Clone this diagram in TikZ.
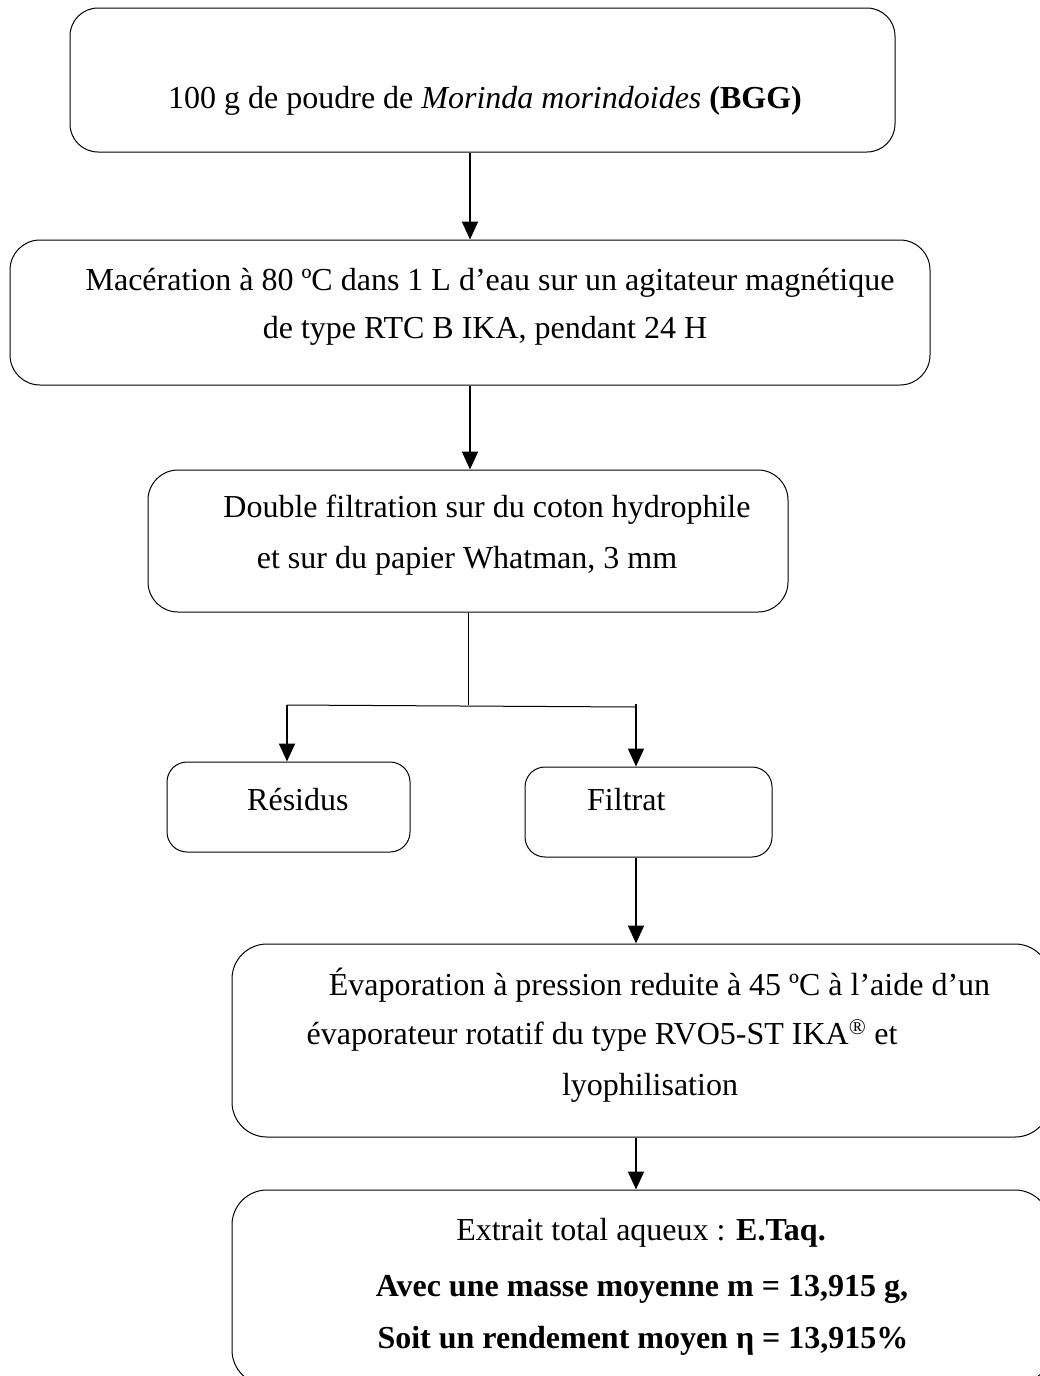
\documentclass[tikz,border=0pt]{standalone}
\usepackage{fontspec}
\setmainfont{Liberation Serif}
\usetikzlibrary{arrows.meta}
\begin{document}
\begin{tikzpicture}[x=1pt,y=-1pt,
  box/.style={draw,line width=1pt,inner sep=0pt,rounded corners=#1},
  box/.default=28pt,
  txt/.style={anchor=base,inner sep=0pt,font=\fontsize{32}{38}\selectfont},
  arr/.style={line width=2pt,-{Triangle[length=18pt,width=16pt]}},
  thinline/.style={line width=1pt}]
\useasboundingbox (0,0) rectangle (1040,1376);
% boxes
\node[box=28pt,minimum width=825pt,minimum height=144pt] (b1) at (482.5,80) {};
\node[box=30pt,minimum width=920pt,minimum height=145pt] (b2) at (470,312.5) {};
\node[box=30pt,minimum width=640pt,minimum height=142pt] (b3) at (468,541) {};
\node[box=20pt,minimum width=243pt,minimum height=90pt] (res) at (288.5,807) {};
\node[box=20pt,minimum width=247pt,minimum height=90pt] (fil) at (648.5,812) {};
\node[box=35pt,minimum width=818pt,minimum height=193pt] (b4) at (641,1040.5) {};
\node[box=35pt,minimum width=818pt,minimum height=195pt] (b5) at (641,1287.5) {};
% texts
\node[txt] (t1) at (485,108) {100 g de poudre de \textit{Morinda morindoides} \textbf{(BGG)}};
\node[txt] (t2a) at (490,290) {Macération à 80 ºC dans 1 L d’eau sur un agitateur magnétique};
\node[txt] (t2b) at (485,338) {de type RTC B IKA, pendant 24 H};
\node[txt] (t3a) at (487,517) {Double filtration sur du coton hydrophile};
\node[txt] (t3b) at (467,568) {et sur du papier Whatman, 3 mm};
\node[txt,anchor=base west] (tres) at (247,810) {Résidus};
\node[txt,anchor=base west] (tfil) at (587,810) {Filtrat};
\node[txt] (t4a) at (659.5,995) {Évaporation à pression reduite à 45 ºC à l’aide d’un};
\node[txt] (t4b) at (602,1044) {évaporateur rotatif du type RVO5-ST IKA\textsuperscript{®} et};
\node[txt] (t4c) at (650,1095) {lyophilisation};
\node[txt] (t5a) at (641,1240) {Extrait total aqueux : \textbf{E.Taq.}};
\node[txt] (t5b) at (642,1296) {\textbf{Avec une masse moyenne m = 13,915 g,}};
\node[txt] (t5c) at (643,1348) {\textbf{Soit un rendement moyen η = 13,915\%}};
% connectors
\coordinate (jl) at (287,705);
\coordinate (jr) at (636,707);
\coordinate (jm) at (468,705);
\draw[arr] (b1.south -| b2.north) -- (b2.north);
\draw[arr] (b2.south) -- (b2.south |- b3.north);
\draw[thinline] (b3.south) -- (jm);
\draw[thinline] (jl) -- (jr);
\draw[arr] (jl) -- (jl |- res.north);
\draw[arr] ([yshift=3pt]jr) -- (jr |- fil.north);
\draw[arr] (fil.south -| jr) -- (jr |- b4.north);
\draw[arr] (b4.south -| jr) -- (jr |- b5.north);
\end{tikzpicture}
\end{document}
